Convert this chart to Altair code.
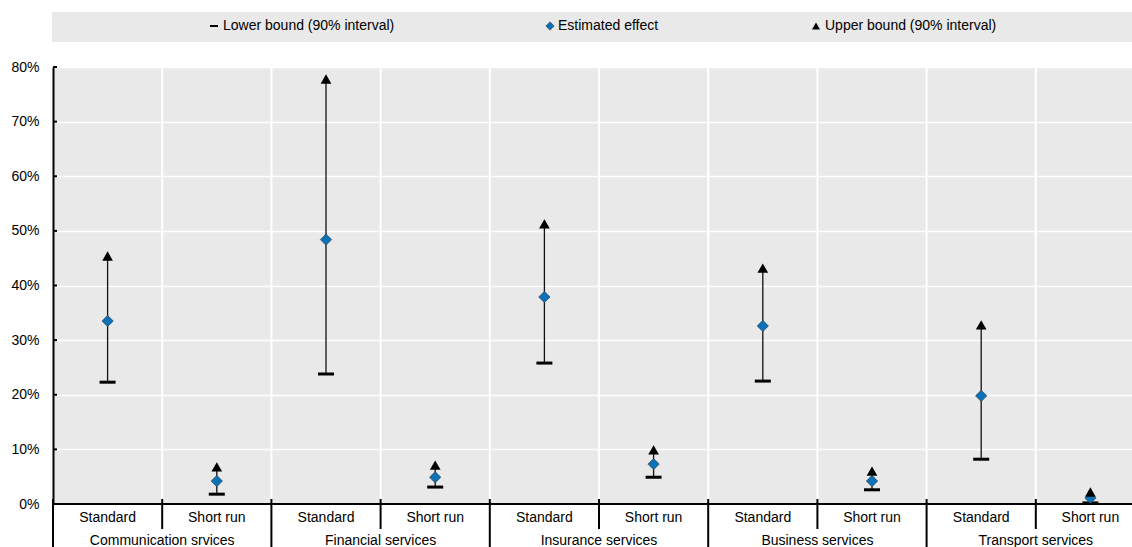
import altair as alt
import pandas as pd

# Service sectors, each estimated in a standard and a short-run specification
groups = ["Communication srvices", "Financial services", "Insurance services",
          "Business services", "Transport services"]
variants = ["Standard", "Short run"]

# Values (share) per slot, in order: sector x specification
lower = [0.223, 0.018, 0.238, 0.031, 0.258, 0.049, 0.225, 0.026, 0.082, 0.002]
estimate = [0.335, 0.042, 0.484, 0.049, 0.379, 0.073, 0.326, 0.042, 0.198, 0.011]
upper = [0.454, 0.068, 0.778, 0.071, 0.513, 0.099, 0.432, 0.060, 0.328, 0.022]

y_ticks = [0.0, 0.1, 0.2, 0.3, 0.4, 0.5, 0.6, 0.7, 0.8]

FONT = "Liberation Sans, Arial, sans-serif"
SLOT = 109.2                      # pixel width of one slot
N = 2 * len(groups)
W, H = 1079, 437                  # visible plot area; the last slot runs past the edge
X_MAX = W / SLOT

rows = []
for i in range(len(estimate)):
    rows.append({
        "slot": i + 0.5,
        "group": groups[i // 2],
        "variant": variants[i % 2],
        "lower": lower[i],
        "estimate": estimate[i],
        "upper": upper[i],
    })
df = pd.DataFrame(rows)

group_df = pd.DataFrame({"group": groups, "center": [2 * k + 1 for k in range(len(groups))]})
inner_sep = pd.DataFrame({"x": [2 * k + 1 for k in range(len(groups))]})
outer_sep = pd.DataFrame({"x": [2 * k for k in range(len(groups) + 1)]})
vgrid = pd.DataFrame({"x": list(range(1, N)), "y0": 0.0, "y1": 0.8})
tick_df = pd.DataFrame({"y": y_ticks})

xs = alt.Scale(domain=[0, X_MAX], nice=False, zero=False)
ys = alt.Scale(domain=[0, 0.8], nice=False, zero=True)

base = alt.Chart(df)

# Horizontal grid + y axis
yaxis = base.mark_point(opacity=0).encode(
    x=alt.X("slot:Q", scale=xs, axis=None),
    y=alt.Y("estimate:Q", scale=ys, title=None,
            axis=alt.Axis(values=y_ticks, format=".0%", grid=True, gridColor="white",
                          gridWidth=1.5, domain=True, domainColor="black", domainWidth=2,
                          ticks=False, labelPadding=14, labelFont=FONT, labelFontSize=14,
                          labelColor="#000000")),
)

vlines = alt.Chart(vgrid).mark_rule(color="white", strokeWidth=2).encode(
    x=alt.X("x:Q", scale=xs), y=alt.Y("y0:Q", scale=ys), y2="y1:Q"
)

# small inward ticks on the y axis
yt = alt.Chart(tick_df).mark_rule(color="black", strokeWidth=2).encode(
    x=alt.value(0), x2=alt.value(4), y=alt.Y("y:Q", scale=ys)
)

# bottom axis line
xline = alt.Chart(pd.DataFrame({"a": [0], "b": [N], "y": [0.0]})).mark_rule(
    color="black", strokeWidth=2
).encode(x=alt.X("a:Q", scale=xs), x2="b:Q", y=alt.Y("y:Q", scale=ys))

inner = alt.Chart(inner_sep).mark_rule(color="black", strokeWidth=2).encode(
    x=alt.X("x:Q", scale=xs), y=alt.value(H - 5), y2=alt.value(H + 25)
)
outer = alt.Chart(outer_sep).mark_rule(color="black", strokeWidth=2).encode(
    x=alt.X("x:Q", scale=xs), y=alt.value(H - 5), y2=alt.value(H + 70)
)

vlabels = base.mark_text(font=FONT, fontSize=14, color="black", baseline="middle").encode(
    x=alt.X("slot:Q", scale=xs), y=alt.value(H + 14), text="variant:N"
)
glabels = alt.Chart(group_df).mark_text(font=FONT, fontSize=14, color="black",
                                        baseline="middle").encode(
    x=alt.X("center:Q", scale=xs), y=alt.value(H + 37), text="group:N"
)

# interval whiskers
whisk = base.mark_rule(color="#111111", strokeWidth=1.3).encode(
    x=alt.X("slot:Q", scale=xs), y=alt.Y("lower:Q", scale=ys), y2="upper:Q"
)
low = base.mark_tick(color="black", orient="horizontal", size=16, thickness=3,
                     opacity=1).encode(
    x=alt.X("slot:Q", scale=xs), y=alt.Y("lower:Q", scale=ys)
)
up = base.mark_point(shape="triangle-up", filled=True, color="black", size=115,
                     opacity=1).encode(
    x=alt.X("slot:Q", scale=xs), y=alt.Y("upper:Q", scale=ys)
)
est = base.mark_point(shape="diamond", filled=True, fill="#0b72b9", stroke="#3a3a3a",
                      strokeWidth=0.6, size=130, opacity=1).encode(
    x=alt.X("slot:Q", scale=xs), y=alt.Y("estimate:Q", scale=ys)
)

# legend band above the plot
legend_names = ["Lower bound (90% interval)", "Estimated effect", "Upper bound (90% interval)"]
band = alt.Chart(pd.DataFrame({"k": [0]})).mark_rect(color="#e9e9e9").encode(
    x=alt.value(-1), x2=alt.value(1090), y=alt.value(-55), y2=alt.value(-25)
)
leg_txt = []
for name, tx in zip(legend_names, [170, 505, 772]):
    leg_txt.append(
        alt.Chart(pd.DataFrame({"t": [name]})).mark_text(
            font=FONT, fontSize=14, color="black", align="left", baseline="middle"
        ).encode(x=alt.value(tx), y=alt.value(-41), text="t:N")
    )
leg_low = alt.Chart(pd.DataFrame({"k": [0]})).mark_rule(color="black", strokeWidth=2).encode(
    x=alt.value(157), x2=alt.value(165), y=alt.value(-41)
)
leg_est = alt.Chart(pd.DataFrame({"k": [0]})).mark_point(
    shape="diamond", filled=True, fill="#0b72b9", stroke="#3a3a3a", strokeWidth=0.6,
    size=70, opacity=1
).encode(x=alt.value(497), y=alt.value(-41))
leg_up = alt.Chart(pd.DataFrame({"k": [0]})).mark_point(
    shape="triangle-up", filled=True, color="black", size=65, opacity=1
).encode(x=alt.value(763), y=alt.value(-41))

chart = alt.layer(
    yaxis, vlines, yt, whisk, low, est, up, xline, inner, outer, vlabels, glabels,
    band, *leg_txt, leg_low, leg_est, leg_up
).properties(
    width=W, height=H,
    autosize=alt.AutoSizeParams(type="none"),
    padding={"left": 53, "top": 67, "right": 0, "bottom": 43},
    background="white",
).configure_view(fill="#e9e9e9", stroke=None)

chart.save("out.html", embed_options={"renderer": "svg", "actions": False})
